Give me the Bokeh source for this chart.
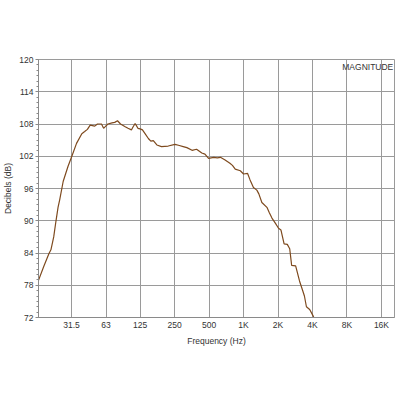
from bokeh.plotting import figure
from bokeh.models import FixedTicker, SingleIntervalTicker, Range1d, Label
from bokeh.embed import file_html
from bokeh.resources import INLINE

freq = [16.2, 18.0, 20.0, 20.8, 22.0, 23.0, 24.0, 24.8, 26.6, 28.0, 29.3, 31.9, 34.8, 38.7,
        41.0, 43.3, 45.8, 48.0, 50.2, 53.0, 57.5, 60.0, 62.0, 65.4, 71.0, 75.0, 79.3, 84.3,
        92.6, 98.0, 104.9, 108.0, 113.0, 116.0, 119.6, 125.0, 131.0, 138.0, 147.5, 155.0,
        163.0, 175.0, 192.0, 220.0, 252.0, 275.0, 297.0, 320.0, 355.0, 389.0, 432.0, 460.0,
        495.0, 549.0, 590.0, 628.0, 690.0, 760.0, 800.0, 846.0, 937.0, 1000.0, 1085.0,
        1140.0, 1220.0, 1306.0, 1360.0, 1445.0, 1600.0, 1680.0, 1770.0, 1900.0, 2020.0,
        2120.0, 2260.0, 2410.0, 2530.0, 2630.0, 2850.0, 3080.0, 3260.0, 3400.0, 3540.0,
        3780.0, 4050.0, 4200.0]
db = [78.9, 81.5, 83.9, 84.6, 87.0, 89.9, 92.5, 93.9, 97.3, 98.8, 100.1, 102.2, 104.4, 106.2,
      106.6, 107.0, 107.8, 107.7, 107.6, 108.0, 108.0, 107.2, 107.5, 108.0, 108.2, 108.3,
      108.6, 108.0, 107.5, 107.2, 106.9, 107.4, 108.1, 107.7, 107.2, 107.1, 106.9, 106.2,
      105.3, 104.8, 104.9, 104.1, 103.8, 103.9, 104.2, 104.0, 103.8, 103.6, 103.1, 103.3,
      102.6, 102.4, 101.6, 101.8, 101.7, 101.8, 101.3, 100.7, 100.3, 99.6, 99.3, 98.7, 98.8,
      97.6, 96.2, 95.7, 95.0, 93.4, 92.5, 91.5, 90.5, 89.5, 88.6, 88.3, 85.7, 85.6, 84.8,
      81.7, 81.6, 78.8, 77.2, 76.0, 74.0, 73.5, 72.3, 71.5]

tick_values = [31.5, 63, 125, 250, 500, 1000, 2000, 4000, 8000, 16000]
tick_labels = ["31.5", "63", "125", "250", "500", "1K", "2K", "4K", "8K", "16K"]

p = figure(width=392, height=384, x_axis_type="log", output_backend="svg",
           toolbar_location=None, frame_width=356, frame_height=258,
           min_border_left=28, min_border_right=8, min_border_top=59,
           x_range=Range1d(16.2, 20800), y_range=Range1d(72, 120))

p.line(freq, db, line_color="#7e4a1e", line_width=1.2)

FONT = "Liberation Sans"
p.xaxis.ticker = FixedTicker(ticks=tick_values)
p.xaxis.major_label_overrides = {v: l for v, l in zip(tick_values, tick_labels)}
p.xaxis.minor_tick_line_color = None
p.xaxis.major_tick_out = 0
p.xaxis.major_tick_in = 0
p.xaxis.axis_label = "Frequency (Hz)"
p.yaxis.ticker = SingleIntervalTicker(interval=6, num_minor_ticks=6)
p.yaxis.axis_label = "Decibels (dB)"
p.yaxis.major_tick_out = 3
p.yaxis.major_tick_in = 0
p.yaxis.minor_tick_out = 2
p.yaxis.minor_tick_in = 0
p.yaxis.minor_tick_line_color = "#888888"

for ax in (p.xaxis[0], p.yaxis[0]):
    ax.axis_line_color = "#8a8a8a"
    ax.major_tick_line_color = "#8a8a8a"
    ax.major_label_text_font = FONT
    ax.major_label_text_font_size = "8.5px"
    ax.major_label_text_color = "#333333"
    ax.axis_label_text_font = FONT
    ax.axis_label_text_font_size = "8.5px"
    ax.axis_label_text_font_style = "normal"
    ax.axis_label_text_color = "#333333"
    ax.major_label_standoff = 2
    ax.axis_label_standoff = 3

p.xgrid.ticker = FixedTicker(ticks=tick_values)
p.xgrid.grid_line_color = "#9a9a9a"
p.ygrid.grid_line_color = "#9a9a9a"
p.outline_line_color = "#9a9a9a"

p.add_layout(Label(x=20300, y=119.5, text="MAGNITUDE",
                   text_font=FONT, text_font_size="8.5px", text_color="#333333",
                   text_align="right", text_baseline="top"))
p.background_fill_color = "white"

open("out.html", "w").write(file_html(p, INLINE))
